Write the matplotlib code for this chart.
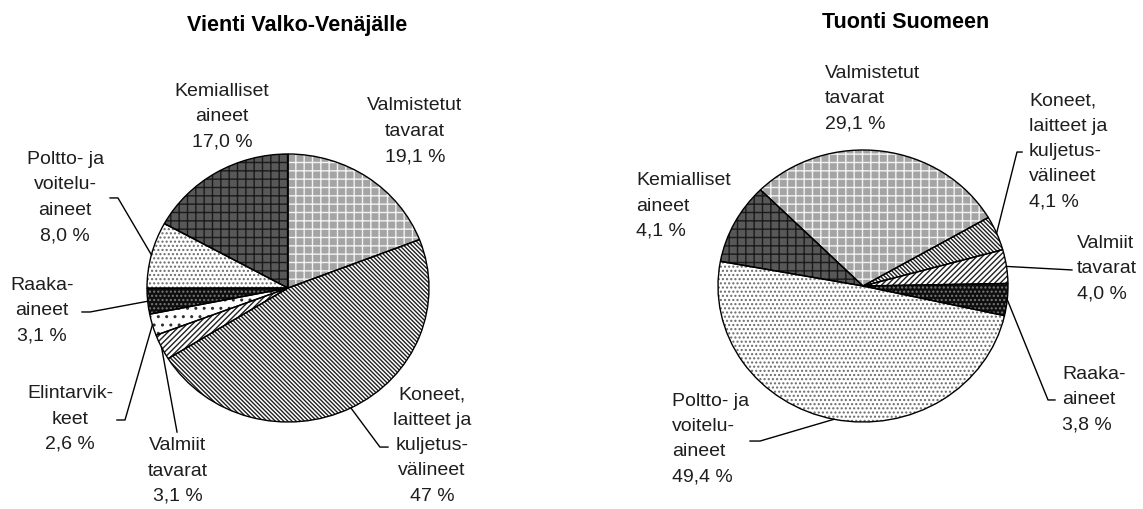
import numpy as np
import matplotlib.pyplot as plt

plt.rcParams['font.family'] = ['Liberation Sans', 'DejaVu Sans']
plt.rcParams['hatch.linewidth'] = 1.0

# --- data (slices go clockwise from the top) ---
vienti_cats = ['valmistetut', 'koneet', 'valmiit', 'elintarvikkeet', 'raaka', 'poltto', 'kemialliset']
vienti_values = [19.1, 47.0, 3.1, 2.6, 3.1, 8.0, 17.0]
vienti_labels = ['Valmistetut\ntavarat\n19,1 %',
                 'Koneet,\nlaitteet ja\nkuljetus-\nvälineet\n47 %',
                 'Valmiit\ntavarat\n3,1 %',
                 'Elintarvik-\nkeet\n2,6 %',
                 'Raaka-\naineet\n3,1 %',
                 'Poltto- ja\nvoitelu-\naineet\n8,0 %',
                 'Kemialliset\naineet\n17,0 %']

tuonti_cats = ['valmistetut', 'koneet', 'valmiit', 'raaka', 'poltto', 'kemialliset']
# the Kemialliset slice is drawn much bigger (~9.6 %) than its printed 4,1 %
tuonti_values = [29.1, 4.1, 4.0, 3.8, 49.4, 9.6]
tuonti_labels = ['Valmistetut\ntavarat\n29,1 %',
                 'Koneet,\nlaitteet ja\nkuljetus-\nvälineet\n4,1 %',
                 'Valmiit\ntavarat\n4,0 %',
                 'Raaka-\naineet\n3,8 %',
                 'Poltto- ja\nvoitelu-\naineet\n49,4 %',
                 'Kemialliset\naineet\n4,1 %']

# fill colour, hatch, hatch colour per category
styles = {
    'valmistetut':    ('#a4a4a4', '++', '#f2f2f2'),
    'koneet':         ('white', '\\' * 8, '#202020'),
    'valmiit':        ('white', '/' * 6, '#202020'),
    'elintarvikkeet': ('white', '..', '#303030'),
    'raaka':          ('#0e0e0e', '....', '#7a7a7a'),
    'poltto':         ('white', '....', '#6a6a6a'),
    'kemialliset':    ('#585858', '++', '#1a1a1a'),
}

W, H = 1143, 509

# --- layout (pixels of the picture, label spots in pie-radius units) ---
vienti_box = (288, 288, 141, 134)   # cx, cy, rx, ry
tuonti_box = (863, 286, 145, 136)

vienti_text = [(0.90, 1.17), (1.02, -1.175), (-0.78, -1.366), (-1.546, -0.978),
               (-1.745, -0.168), (-1.58, 0.675), (-0.468, 1.28)]
vienti_lead = [None,
               [(0.709, -1.187), (0.652, -1.187)],
               [(-0.787, -1.075)],
               [(-1.213, -0.985), (-1.156, -0.985)],
               [(-1.461, -0.179), (-1.404, -0.179)],
               [(-1.262, 0.672), (-1.206, 0.672)],
               None]

tuonti_text = [(-0.262, 1.379), (1.145, 0.989), (1.476, 0.129), (1.372, -0.838),
               (-1.317, -1.125), (-1.566, 0.588)]
tuonti_lead = [None,
               [(1.097, 0.985), (1.062, 0.985)],
               [(1.441, 0.118)],
               [(1.324, -0.838), (1.276, -0.838)],
               [(-0.779, -1.140), (-0.710, -1.140)],
               None]


def make_ax(fig, box):
    cx, cy, rx, ry = box
    return fig.add_axes([(cx - rx) / W, (H - cy - ry) / H, 2 * rx / W, 2 * ry / H])


def draw_pie(ax, values, cats, labels, start, text_pos, leads, ha):
    wedges, _ = ax.pie(values, startangle=start, counterclock=False, radius=1,
                       wedgeprops=dict(linewidth=0))
    for w, c in zip(wedges, cats):
        face, hatch, hcol = styles[c]
        w.set_facecolor(face)
        w.set_edgecolor(hcol)
        w.set_hatch(hatch)
        w.set_clip_on(False)
    # black outlines on top
    outl, _ = ax.pie(values, startangle=start, counterclock=False, radius=1,
                     wedgeprops=dict(fill=False, edgecolor='black', linewidth=1.0))
    for w in outl:
        w.set_clip_on(False)

    for w, lab, (tx, ty), lead in zip(wedges, labels, text_pos, leads):
        ax.text(tx, ty, lab, ha=ha, va='center', multialignment=ha,
                fontsize=14, linespacing=1.64, color='#1e1e1e')
        if lead is None:
            continue
        mid = np.deg2rad((w.theta1 + w.theta2) / 2)
        pts = lead + [(np.cos(mid), np.sin(mid))]
        xs, ys = zip(*pts)
        ax.plot(xs, ys, color='black', linewidth=1.0, clip_on=False)

    ax.set_aspect('auto')
    ax.set_xlim(-1, 1)
    ax.set_ylim(-1, 1)
    ax.axis('off')


fig = plt.figure(figsize=(W / 100, H / 100), dpi=100)

ax_v = make_ax(fig, vienti_box)
draw_pie(ax_v, vienti_values, vienti_cats, vienti_labels, 90, vienti_text, vienti_lead, 'center')

ax_t = make_ax(fig, tuonti_box)
draw_pie(ax_t, tuonti_values, tuonti_cats, tuonti_labels, 135, tuonti_text, tuonti_lead, 'left')

fig.text(297 / W, 1 - 25 / H, 'Vienti Valko-Venäjälle', ha='center', va='center',
         fontsize=15.5, fontweight='bold')
fig.text(906 / W, 1 - 23 / H, 'Tuonti Suomeen', ha='center', va='center',
         fontsize=15.5, fontweight='bold')

fig.savefig('out.png', dpi=100)
